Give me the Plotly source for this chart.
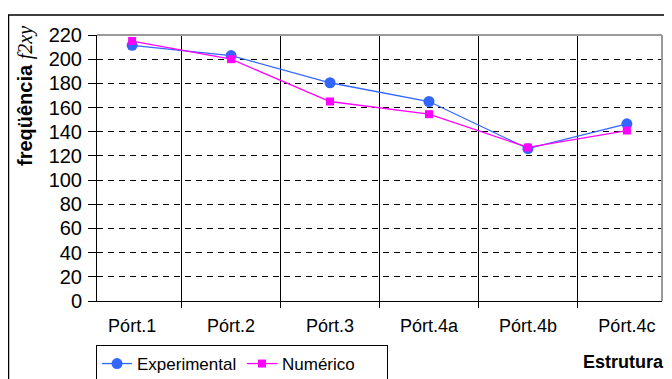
import plotly.graph_objects as go

categories = ["Pórt.1", "Pórt.2", "Pórt.3", "Pórt.4a", "Pórt.4b", "Pórt.4c"]
experimental = [211.5, 203, 180.5, 165, 126, 146.5]
numerico = [215, 200, 165, 154.5, 127, 141]
y_ticks = list(range(0, 221, 20))

# page body has an 8px margin: lay out in page coords shifted by OFF
OFF = 8
W, H = 672 - OFF, 379 - OFF
L, R, T, B = 97 - OFF, 662 - OFF, 35 - OFF, 301 - OFF
pw, ph = R - L, B - T


def px(x):
    return (x - OFF - L) / pw


def py(y):
    return (B - (y - OFF)) / ph


fig = go.Figure()
fig.add_trace(go.Scatter(
    x=categories, y=experimental, name="Experimental", mode="lines+markers",
    line=dict(color="#3366FF", width=1.3),
    marker=dict(symbol="circle", size=11, color="#3366FF"),
))
fig.add_trace(go.Scatter(
    x=categories, y=numerico, name="Numérico", mode="lines+markers",
    line=dict(color="#FF00FF", width=1.3),
    marker=dict(symbol="square", size=8, color="#FF00FF"),
))

font = "Liberation Sans, Arial, sans-serif"

fig.update_layout(
    width=W, height=H, autosize=False,
    margin=dict(l=L, r=W - R, t=T, b=H - B, pad=0, autoexpand=False),
    paper_bgcolor="white", plot_bgcolor="white",
    font=dict(family=font, size=17, color="black"),
    showlegend=True,
    legend=dict(
        orientation="h", x=px(96), y=py(345),
        xanchor="left", yanchor="top",
        bordercolor="black", borderwidth=1, bgcolor="white",
        font=dict(family=font, size=17, color="black"),
        itemwidth=30, tracegroupgap=0,
        entrywidth=100, entrywidthmode="pixels",
    ),
    xaxis=dict(
        type="category", tickson="boundaries",
        showgrid=True, gridcolor="black", gridwidth=1,
        ticks="outside", ticklen=6, tickcolor="black",
        showline=True, linecolor="black", linewidth=1,
        tickfont=dict(family=font, size=18, color="black"),
        ticklabelstandoff=8, automargin=False,
        zeroline=False, fixedrange=True,
    ),
    yaxis=dict(
        range=[0, 220], tickmode="array", tickvals=y_ticks,
        showgrid=True, gridcolor="black", gridwidth=1, griddash="6px,5px",
        ticks="outside", ticklen=8, tickcolor="black",
        showline=True, linecolor="black", linewidth=1,
        tickfont=dict(family=font, size=20, color="black"),
        ticklabelstandoff=2, automargin=False,
        zeroline=False,
    ),
    shapes=[
        dict(type="line", xref="paper", yref="paper", x0=0, x1=1, y0=1, y1=1,
             line=dict(color="#9a9a9a", width=2), layer="above"),
        dict(type="line", xref="paper", yref="paper", x0=1, x1=1, y0=0, y1=1,
             line=dict(color="#9a9a9a", width=2), layer="above"),
        dict(type="rect", xref="paper", yref="paper",
             x0=px(8.5), x1=1.3, y0=-0.6, y1=py(15),
             line=dict(color="black", width=1.5), fillcolor="rgba(0,0,0,0)",
             layer="below"),
    ],
    annotations=[
        dict(text="<b>freqüência</b> <span style=\"font-family:'Liberation Serif',serif;font-style:italic\">f2xy</span>",
             xref="paper", yref="paper", x=px(25), y=py(96),
             xanchor="center", yanchor="middle", textangle=-90, showarrow=False,
             font=dict(family=font, size=20, color="black")),
        dict(text="<b>Estrutura</b>", xref="paper", yref="paper",
             x=px(581), y=py(362), xanchor="left", yanchor="middle",
             showarrow=False, font=dict(family=font, size=18, color="black")),
    ],
)

fig.write_html("out.html")
